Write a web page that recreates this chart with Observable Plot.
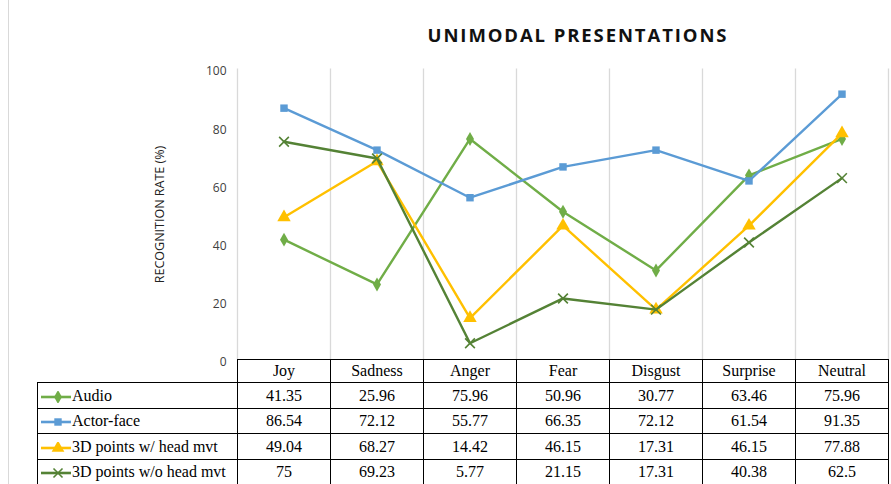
<!DOCTYPE html>
<html><head><meta charset="utf-8">
<script src="https://cdn.jsdelivr.net/npm/d3@7"></script>
<script src="https://cdn.jsdelivr.net/npm/@observablehq/plot@0.6"></script>
<style>
body{margin:0;background:#fff}
#wrap{position:relative;width:891px;height:484px;overflow:hidden;background:#fff}
#frame{position:absolute;left:8px;top:0;width:0;height:484px;border-left:1px solid #d9d9d9}
#title{position:absolute;top:22px;left:0;width:1156px;text-align:center;font:bold 18.5px "Open Sans",sans-serif;letter-spacing:1.9px;color:#111}
#plot{position:absolute;left:0;top:0}
#tbl{position:absolute;left:37px;top:359px;border-collapse:collapse;font:16px "Liberation Serif","Times New Roman",serif;color:#000}
#tbl td{border:1.5px solid #000;text-align:center;padding:0;white-space:nowrap}
#tbl td.empty{border:none}
#tbl td.key{text-align:left;width:199px}
#tbl td.key svg{vertical-align:middle;margin-right:1px}
#tbl td.num{width:92px}
</style></head><body>
<div id="wrap"><div id="frame"></div><div id="title">UNIMODAL PRESENTATIONS</div></div>
<script>
const categories = ["Joy","Sadness","Anger","Fear","Disgust","Surprise","Neutral"];
const audio = [41.35,25.96,75.96,50.96,30.77,63.46,75.96];
const actorFace = [86.54,72.12,55.77,66.35,72.12,61.54,91.35];
const withHead = [49.04,68.27,14.42,46.15,17.31,46.15,77.88];
const withoutHead = [75,69.23,5.77,21.15,17.31,40.38,62.5];
const seriesNames = ["Audio","Actor-face","3D points w/ head mvt","3D points w/o head mvt"];
const seriesColors = ["#70AD47","#5B9BD5","#FFC000","#548235"];
const seriesSymbols = ["diamond","square","triangle","times"];
const yTicks = [0,20,40,60,80,100];

const seriesValues = [audio, actorFace, withHead, withoutHead];
const series = seriesNames.map((name, s) => ({
  name, color: seriesColors[s], symbol: seriesSymbols[s],
  data: categories.map((c, i) => ({cat: c, i, value: seriesValues[s][i]}))
}));
const boundaries = d3.range(categories.length + 1).map(k => k - 0.5);

const marks = [
  Plot.ruleX(boundaries, {stroke: "#d9d9d9", strokeWidth: 1.3}),
  Plot.axisY({ticks: yTicks, tickSize: 0, tickPadding: 11, fontSize: 12, label: null, fill: "#404040", fontFamily: "Open Sans", dy: 2.5}),
  Plot.axisY({ticks: [], label: "RECOGNITION RATE (%)", labelAnchor: "center", labelArrow: "none", labelOffset: 82, fontSize: 12.5, fill: "#222", fontFamily: "Open Sans"})
];
for (const s of series) {
  marks.push(Plot.line(s.data, {x: "i", y: "value", stroke: s.color, strokeWidth: 2.4}));
  if (s.symbol === "times") {
    marks.push(Plot.dot(s.data, {x: "i", y: "value", symbol: "times", stroke: s.color, strokeWidth: 1.6, r: 4.5}));
  } else {
    marks.push(Plot.dot(s.data, {x: "i", y: "value", symbol: s.symbol, fill: s.color, stroke: "none", r: s.symbol === "triangle" ? 5 : 4.2}));
  }
}

const chart = Plot.plot({
  width: 891, height: 484,
  marginLeft: 237, marginRight: 3, marginTop: 68.5, marginBottom: 124.5,
  x: {type: "linear", domain: [-0.5, categories.length - 0.5], axis: null},
  y: {domain: [0, 100]},
  style: {background: "transparent", overflow: "visible"},
  marks
});
chart.id = "plot";
document.getElementById("wrap").appendChild(chart);

// data table
const tbl = document.createElement("table");
tbl.id = "tbl";
const head = tbl.insertRow();
head.style.height = "23px";
const e = head.insertCell(); e.className = "empty";
for (const c of categories) { const td = head.insertCell(); td.className = "num"; td.textContent = c; }
const rowH = [26, 25, 26, 25];
const symMap = {diamond: d3.symbolDiamond, square: d3.symbolSquare, triangle: d3.symbolTriangle, times: d3.symbolTimes};
series.forEach((s, k) => {
  const tr = tbl.insertRow();
  tr.style.height = rowH[k] + "px";
  const td = tr.insertCell(); td.className = "key";
  const svg = d3.create("svg").attr("width", 33).attr("height", 12);
  svg.append("line").attr("x1", 3).attr("x2", 33).attr("y1", 6).attr("y2", 6).attr("stroke", s.color).attr("stroke-width", 2.6);
  const p = svg.append("path").attr("transform", "translate(20,6)")
    .attr("d", d3.symbol(symMap[s.symbol], s.symbol === "triangle" ? 70 : 55)());
  if (s.symbol === "times") p.attr("fill", "none").attr("stroke", s.color).attr("stroke-width", 1.6);
  else p.attr("fill", s.color);
  td.appendChild(svg.node());
  td.appendChild(document.createTextNode(s.name));
  for (const d of s.data) { const c = tr.insertCell(); c.className = "num"; c.textContent = String(d.value); }
});
document.getElementById("wrap").appendChild(tbl);
</script>
</body></html>
